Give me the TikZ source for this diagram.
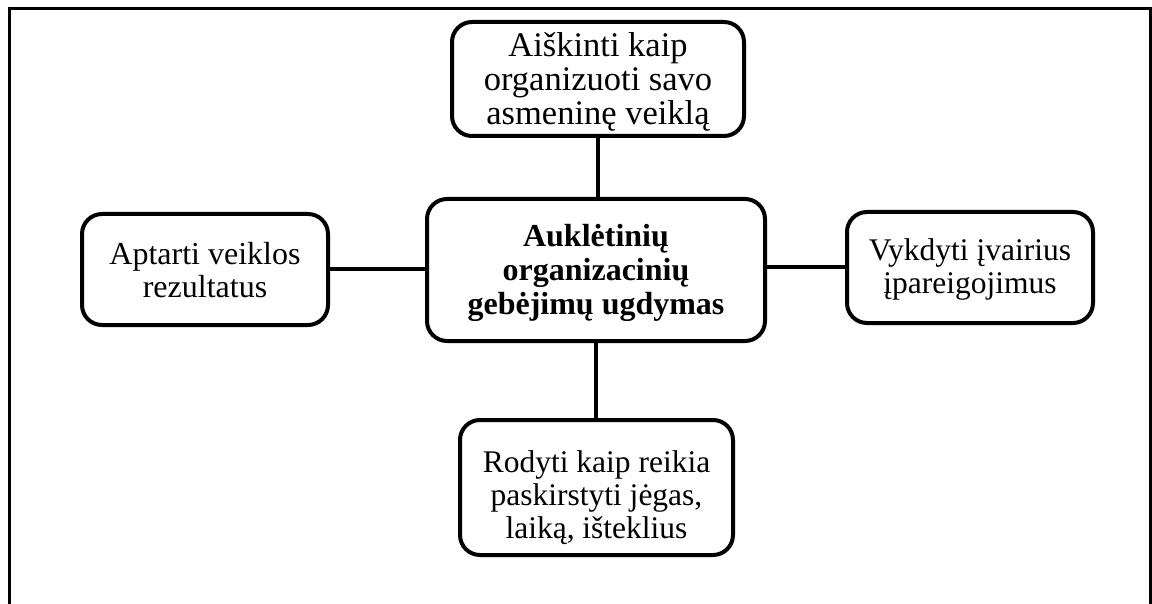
\documentclass[tikz,border=0pt]{standalone}
\usepackage{fontspec}
\setmainfont{Liberation Serif}
\begin{document}
\begin{tikzpicture}[x=1pt,y=-1pt,
  box/.style={draw, line width=4pt, rounded corners=20pt, inner sep=0pt},
  txt/.style={align=center, inner sep=0pt},
  link/.style={line width=4pt}]
\useasboundingbox (0,0) rectangle (1152,604);
% open frame (no bottom edge)
\draw[line width=3pt] (9,604) -- (9,9) -- (1150.5,9) -- (1150.5,604);

% boxes
\node[box, minimum width=338pt, minimum height=142pt] (hub)  at (596,270)   {};
\node[box, minimum width=292pt, minimum height=114pt] (up)   at (598,79)    {};
\node[box, minimum width=246pt, minimum height=111pt] (lft)  at (205,269.5) {};
\node[box, minimum width=246pt, minimum height=111pt] (rgt)  at (970,267.5) {};
\node[box, minimum width=273pt, minimum height=135pt] (down) at (596.5,487.5) {};

% box texts
\node[txt, font=\fontsize{32}{34}\selectfont\bfseries] (hub-t) at ([yshift=-3pt]hub.center)
  {Auklėtinių\\organizacinių\\gebėjimų ugdymas};
\node[txt, font=\fontsize{34.5}{34}\selectfont] (up-t) at ([yshift=-3pt]up.center)
  {Aiškinti kaip\\organizuoti savo\\asmeninę veiklą};
\node[txt, font=\fontsize{32}{33}\selectfont] (lft-t) at ([yshift=-1pt]lft.center)
  {Aptarti veiklos\\rezultatus};
\node[txt, font=\fontsize{31.5}{33}\selectfont] (rgt-t) at ([yshift=-2pt]rgt.center)
  {Vykdyti įvairius\\įpareigojimus};
\node[txt, font=\fontsize{31.5}{33}\selectfont] (down-t) at ([yshift=-10pt]down.center)
  {Rodyti kaip reikia\\paskirstyti jėgas,\\laiką, išteklius};

% connectors
\draw[link] (up.south) -- (up.south |- hub.north);
\draw[link] (hub.south) -- (hub.south |- down.north);
\draw[link] (lft.east) -- (lft.east -| hub.west);
\draw[link] (hub.east |- rgt.west) -- (rgt.west);
\end{tikzpicture}
\end{document}
